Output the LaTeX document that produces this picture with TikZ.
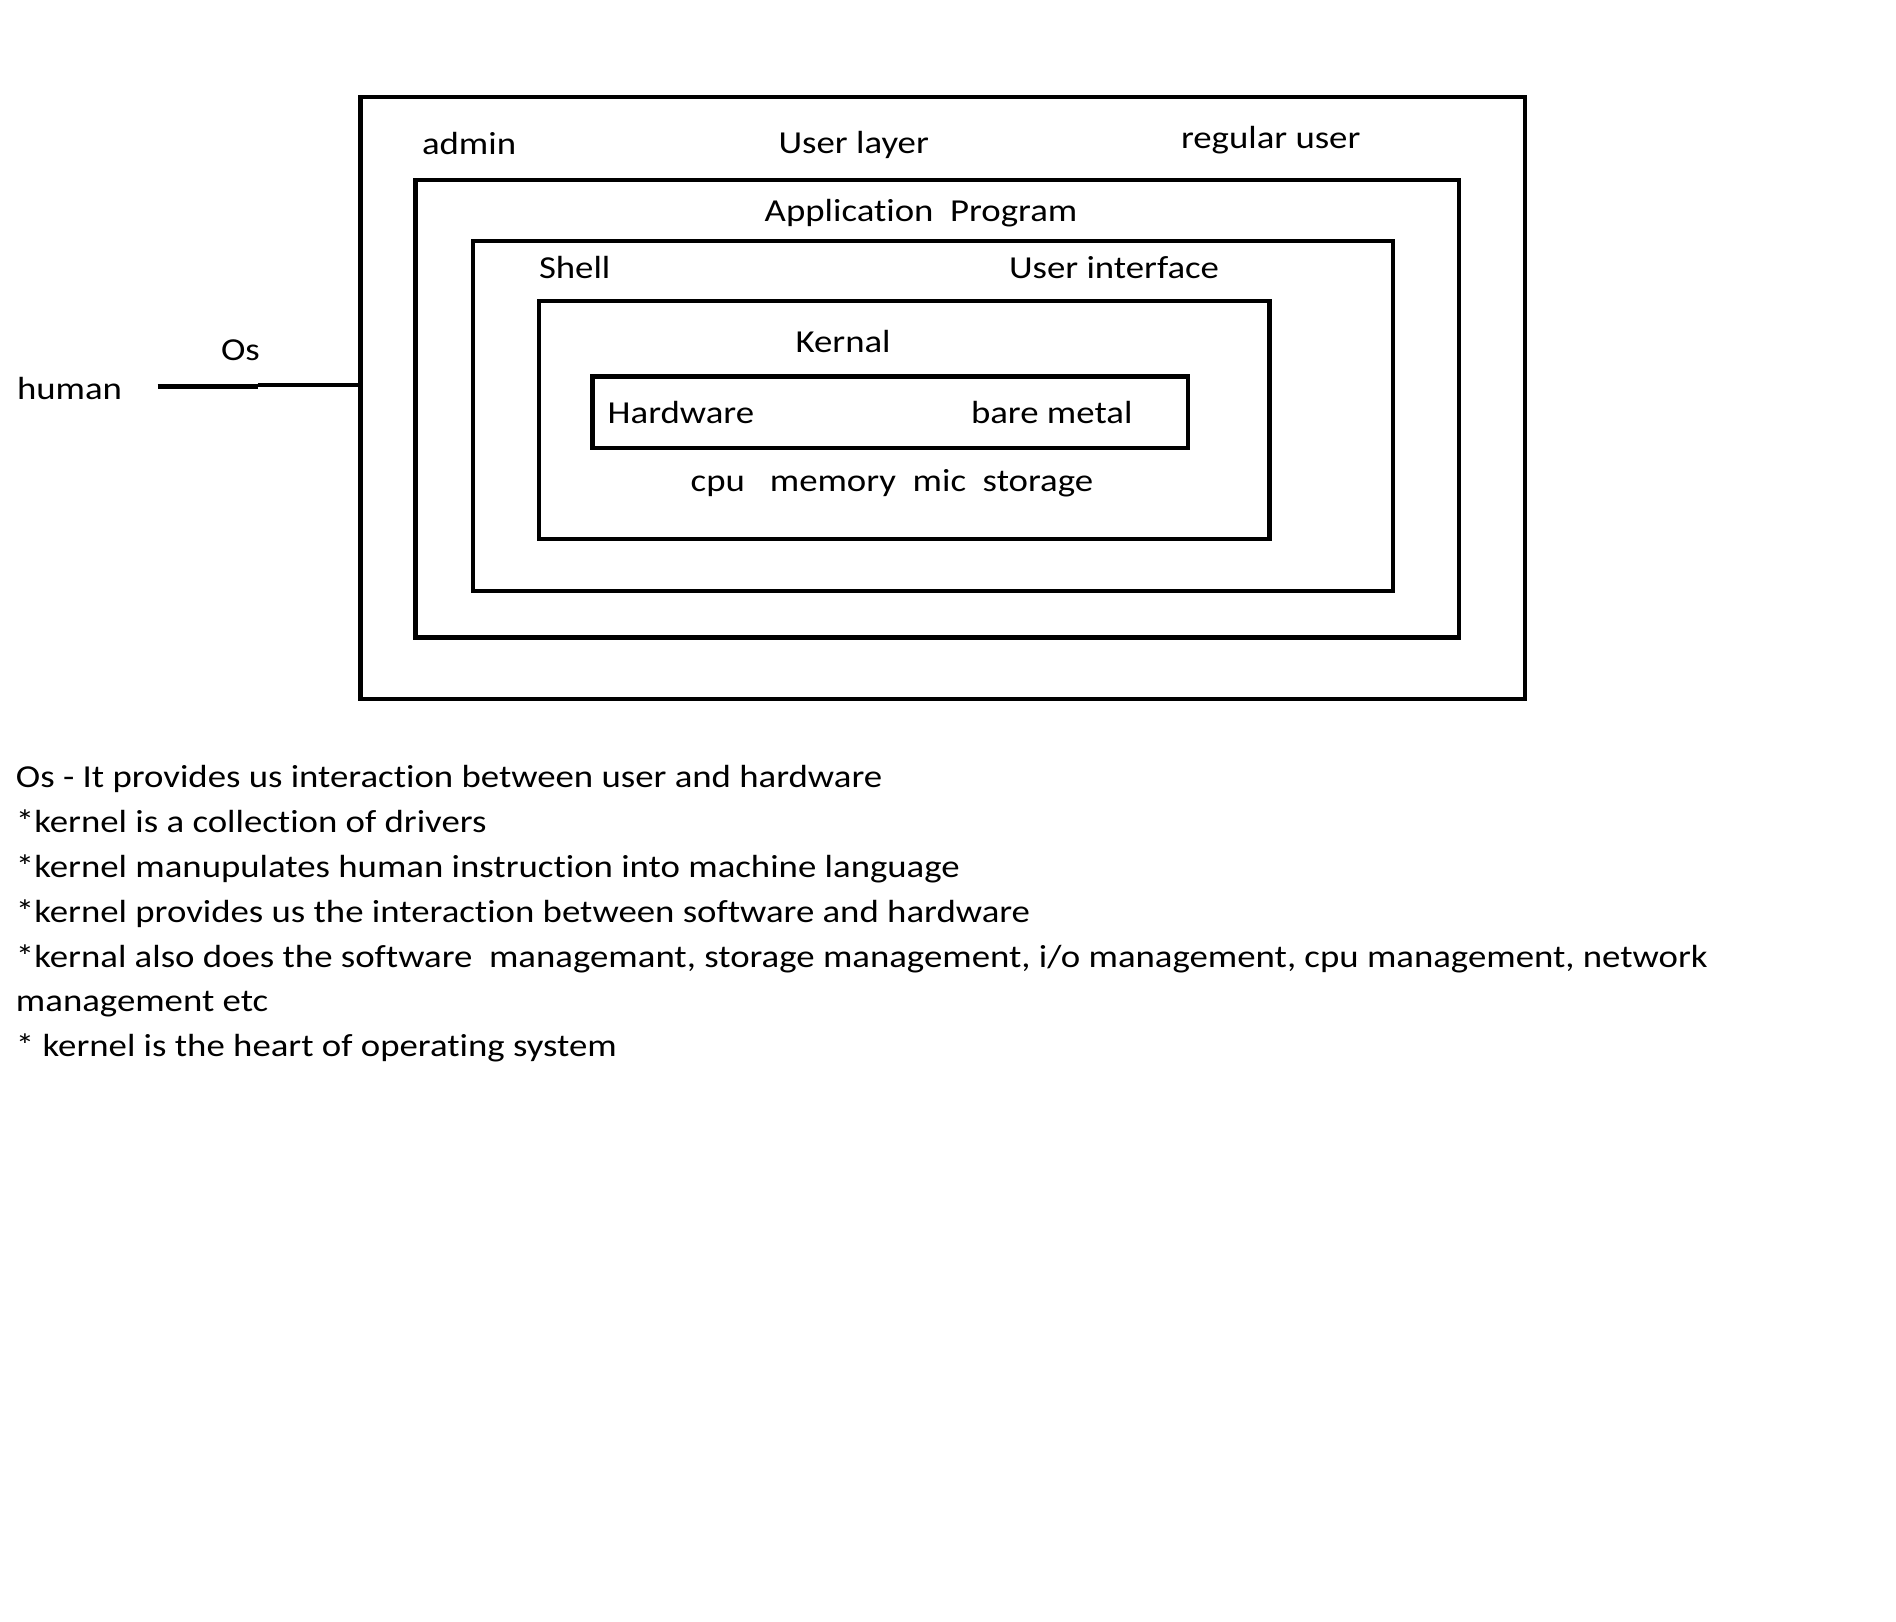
\documentclass[tikz,border=0pt]{standalone}
\usepackage{fontspec}
\setmainfont[FakeStretch=1.15, Ligatures=NoCommon]{Carlito}
\begin{document}
\begin{tikzpicture}[x=1pt,y=-1pt,
  layer/.style={draw=black, line width=4.5pt, inner sep=0pt, outer sep=0pt},
  lbl/.style={anchor=base west, inner sep=0pt, outer sep=0pt, text=black,
    font=\fontsize{32}{45}\selectfont},
  link/.style={draw=black, line width=4.5pt}]
\useasboundingbox[fill=white] (0,0) rectangle (1896,1622);
% nested layer boxes
\node[layer, minimum width=1164.5pt, minimum height=602pt] (outer) at (942.75,398) {};
\node[layer, minimum width=1043.4pt, minimum height=457.5pt] (app) at (937.3,408.75) {};
\node[layer, minimum width=920pt, minimum height=350pt] (shell) at (933,416) {};
\node[layer, minimum width=730.6pt, minimum height=238pt] (kern) at (904.3,420) {};
\node[layer, minimum width=595.4pt, minimum height=71.5pt] (hw) at (890.3,412.25) {};
% labels
\node[lbl] (admin) at (422,154) {admin};
\node[lbl] (ulayer) at (778.6,153) {User layer};
\node[lbl] (reg) at (1181,148) {regular user};
\node[lbl] (appl) at (764.7,221) {Application\ \ Program};
\node[lbl] (shl) at (539,278) {Shell};
\node[lbl] (ui) at (1009,278) {User interface};
\node[lbl] (kl) at (795.6,352) {Kernal};
\node[lbl] (hwl) at (607.7,423) {Hardware};
\node[lbl] (bm) at (971,423) {bare metal};
\node[lbl] (dev) at (690.7,491) {cpu\ \ \ memory\ \ mic\ \ storage};
\node[lbl] (os) at (221,360) {Os};
\node[lbl] (human) at (17,399) {human};
% connector human -- OS box
\coordinate (h0) at (157.5,386.6);
\coordinate (h1) at (257.5,386.6);
\coordinate (h2) at (257.5,385);
\draw[link] (h0) -- (h1);
\draw[link] (h2) -- (h2 -| outer.west);
% notes
\node[lbl] (n1) at (16,787) {Os - It provides us interaction between user and hardware};
\node[lbl] (n2) at (16,832) {*kernel is a collection of drivers};
\node[lbl] (n3) at (16,877) {*kernel manupulates human instruction into machine language};
\node[lbl] (n4) at (16,922) {*kernel provides us the interaction between software and hardware};
\node[lbl] (n5) at (16,967) {*kernal also does the software\ \ managemant, storage management, i/o management, cpu management, network};
\node[lbl] (n6) at (16,1011) {management etc};
\node[lbl] (n7) at (16,1056) {* kernel is the heart of operating system};
\end{tikzpicture}
\end{document}
